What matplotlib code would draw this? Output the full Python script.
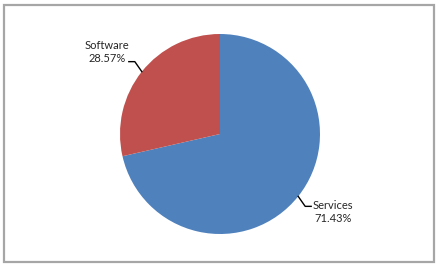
import matplotlib.pyplot as plt
import numpy as np
from matplotlib.patches import Rectangle

labels = ["Services", "Software"]
shares = [71.43, 28.57]
colors = ["#4F81BD", "#C0504D"]

W, H = 439, 266
fig = plt.figure(figsize=(W / 100, H / 100), dpi=100)
ax = fig.add_axes([0, 0, 1, 1])

# outer chart border
ax.add_patch(Rectangle((4.5, 4.5), 430, 257, fill=False, edgecolor="#a6a6a6", lw=1.6))

cx, cy, r = 220, 132, 100
wedges, _ = ax.pie(shares, colors=colors, startangle=90, counterclock=False,
                   center=(cx, cy), radius=r, frame=True,
                   wedgeprops=dict(linewidth=0))
ax.set_xlim(0, W)
ax.set_ylim(0, H)
ax.set_aspect("equal")
ax.axis("off")

for w, lab, val in zip(wedges, labels, shares):
    mid = np.deg2rad((w.theta1 + w.theta2) / 2)
    ex, ey = cx + r * np.cos(mid), cy + r * np.sin(mid)
    side = 1 if np.cos(mid) > 0 else -1
    up = np.sign(np.sin(mid))
    # leader: diagonal out from wedge edge, then short horizontal
    kx, ky = ex + side * 7, ey + up * 10
    hx = kx + side * 6
    ax.plot([ex, kx, hx], [ey, ky, ky], color="black", lw=1)
    tx = hx + side * 22
    ax.text(tx, ky + 2 + 7.5 * up, f"{lab}\n{val:.2f}%", ha="center", va="center",
            fontsize=8, color="#262626", linespacing=1.2,
            family=['Lato', 'DejaVu Sans'])

fig.savefig("out.png", dpi=100)
